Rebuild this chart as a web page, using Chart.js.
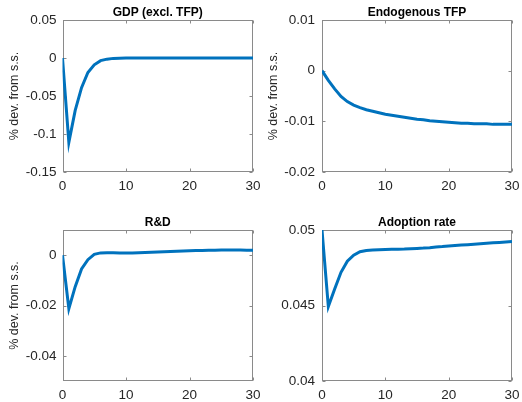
<!DOCTYPE html>
<html><head><meta charset="utf-8">
<script src="https://cdn.jsdelivr.net/npm/chart.js@4/dist/chart.umd.min.js"></script>
<style>
html,body{margin:0;padding:0;background:#fff;}
body{width:522px;height:402px;position:relative;overflow:hidden;}
.p{position:absolute;}
</style></head><body>
<div class="p" style="left:0px;top:0px;width:262px;height:195px"><canvas id="c1"></canvas></div>
<div class="p" style="left:261px;top:0px;width:261px;height:195px"><canvas id="c2"></canvas></div>
<div class="p" style="left:0px;top:210px;width:262px;height:192px"><canvas id="c3"></canvas></div>
<div class="p" style="left:261px;top:210px;width:261px;height:192px"><canvas id="c4"></canvas></div>
<script>
// ---- data ----
const periods = [0,1,2,3,4,5,6,7,8,9,10,11,12,13,14,15,16,17,18,19,20,21,22,23,24,25,26,27,28,29,30];
const gdp = [0,-0.111,-0.069,-0.039,-0.019,-0.009,-0.0035,-0.0015,-0.0005,-0.0002,0,0,0,0,0,0,0,0,0,0,0,0,0,0,0,0,0,0,0,0,0];
const tfp = [0,-0.0019,-0.0036,-0.0051,-0.0061,-0.0068,-0.0073,-0.0077,-0.0080,-0.0083,-0.0086,-0.0088,-0.0090,-0.0092,-0.0094,-0.0096,-0.0097,-0.0099,-0.0100,-0.0101,-0.0102,-0.0103,-0.0104,-0.0104,-0.0105,-0.0105,-0.0105,-0.0106,-0.0106,-0.0106,-0.0106];
const rd = [0,-0.0213,-0.0125,-0.0055,-0.0018,0.0003,0.0009,0.0010,0.0010,0.0009,0.0009,0.0009,0.0010,0.0011,0.0012,0.0013,0.0014,0.0015,0.0016,0.0017,0.0018,0.0019,0.0019,0.0020,0.0020,0.0021,0.0021,0.0021,0.0021,0.0020,0.0020];
const adoption = [0.05,0.04493,0.0461,0.0472,0.04793,0.04833,0.04856,0.04864,0.04867,0.04869,0.04871,0.04872,0.04873,0.04874,0.04876,0.04878,0.04880,0.04883,0.04887,0.04890,0.04894,0.04897,0.04900,0.04903,0.04906,0.04909,0.04912,0.04915,0.04918,0.04921,0.04924];

const xTicks = [0,10,20,30];
const xTickLabels = ['0','10','20','30'];
const gdpTicks = [-0.15,-0.1,-0.05,0,0.05];
const gdpTickLabels = ['-0.15','-0.1','-0.05','0','0.05'];
const tfpTicks = [-0.02,-0.01,0,0.01];
const tfpTickLabels = ['-0.02','-0.01','0','0.01'];
const rdTicks = [-0.04,-0.02,0];
const rdTickLabels = ['-0.04','-0.02','0'];
const adoptionTicks = [0.04,0.045,0.05];
const adoptionTickLabels = ['0.04','0.045','0.05'];

const titles = ['GDP (excl. TFP)','Endogenous TFP','R&D','Adoption rate'];
const yAxisLabel = '% dev. from s.s.';

// ---- drawing ----
const FONT = "'Liberation Sans', Arial, Helvetica, sans-serif";
Chart.defaults.font.family = FONT;
const AXIS = '#8a8a8a';
const TEXT = '#262626';

const boxPlugin = {
  id: 'box',
  beforeDatasetsDraw(chart) {
    const {ctx, chartArea: a, scales: {x, y}} = chart;
    const l = Math.round(a.left) + 0.5, r = Math.round(a.right) - 0.5;
    const t = Math.round(a.top) + 0.5, b = Math.round(a.bottom) - 0.5;
    const L = 3;
    ctx.save();
    ctx.strokeStyle = AXIS; ctx.lineWidth = 1;
    ctx.strokeRect(l, t, r - l, b - t);
    ctx.beginPath();
    x.ticks.forEach(tk => {
      const px = Math.round(x.getPixelForValue(tk.value)) + 0.5;
      ctx.moveTo(px, b); ctx.lineTo(px, b - L);
      ctx.moveTo(px, t); ctx.lineTo(px, t + L);
    });
    y.ticks.forEach(tk => {
      const py = Math.round(y.getPixelForValue(tk.value)) + 0.5;
      ctx.moveTo(l, py); ctx.lineTo(l + L, py);
      ctx.moveTo(r, py); ctx.lineTo(r - L, py);
    });
    ctx.stroke();
    ctx.restore();
  }
};

function makeChart(id, title, values, yMin, yMax, yTicks, yLabels, opts) {
  new Chart(document.getElementById(id), {
    type: 'line',
    data: {
      datasets: [{
        data: periods.map((p, i) => ({x: p, y: values[i]})),
        borderColor: '#0072BD',
        borderWidth: 3,
        pointRadius: 0,
        tension: 0,
        fill: false
      }]
    },
    options: {
      responsive: true,
      maintainAspectRatio: false,
      animation: false,
      devicePixelRatio: 1,
      layout: {padding: {top: 0, right: opts.padRight, bottom: 0, left: 0}},
      plugins: {
        legend: {display: false},
        tooltip: {enabled: false},
        title: {
          display: true, text: title, fullSize: false, color: '#000',
          font: {size: 12, weight: 'bold', family: FONT},
          padding: {top: 5.6, bottom: 0}
        }
      },
      scales: {
        x: {
          type: 'linear', min: 0, max: 30,
          grid: {display: false, drawTicks: false},
          border: {display: false},
          afterBuildTicks: s => { s.ticks = xTicks.map(v => ({value: v})); },
          afterFit: s => { s.height = opts.xHeight; s.paddingLeft = 0; s.paddingRight = 0; },
          ticks: {
            color: TEXT, font: {size: 13.5, family: FONT}, padding: 6, maxRotation: 0,
            callback: (v, i) => xTickLabels[i]
          }
        },
        y: {
          type: 'linear', min: yMin, max: yMax,
          grid: {display: false, drawTicks: false},
          border: {display: false},
          afterBuildTicks: s => { s.ticks = yTicks.map(v => ({value: v})); },
          afterFit: s => { s.width = opts.yWidth; s.paddingTop = 0; s.paddingBottom = 0; },
          ticks: {
            color: TEXT, font: {size: 13.5, family: FONT}, padding: opts.yPad,
            callback: (v, i) => yLabels[i]
          },
          title: {
            display: opts.yTitle, text: yAxisLabel, color: TEXT,
            font: {size: 12.5, family: FONT}, padding: {top: opts.titlePad, bottom: 0}
          }
        }
      }
    },
    plugins: [boxPlugin]
  });
}

makeChart('c1', titles[0], gdp, -0.15, 0.05, gdpTicks, gdpTickLabels,
  {padRight: 9, xHeight: 23, yWidth: 62.5, yPad: 6, yTitle: true, titlePad: 7});
makeChart('c2', titles[1], tfp, -0.02, 0.01, tfpTicks, tfpTickLabels,
  {padRight: 10, xHeight: 23, yWidth: 61, yPad: 7, yTitle: true, titlePad: 5.5});
makeChart('c3', titles[2], rd, -0.05, 0.01, rdTicks, rdTickLabels,
  {padRight: 9, xHeight: 21, yWidth: 62.5, yPad: 6, yTitle: true, titlePad: 7});
makeChart('c4', titles[3], adoption, 0.04, 0.05, adoptionTicks, adoptionTickLabels,
  {padRight: 10, xHeight: 21, yWidth: 61, yPad: 7, yTitle: false, titlePad: 0});
</script>
</body></html>
